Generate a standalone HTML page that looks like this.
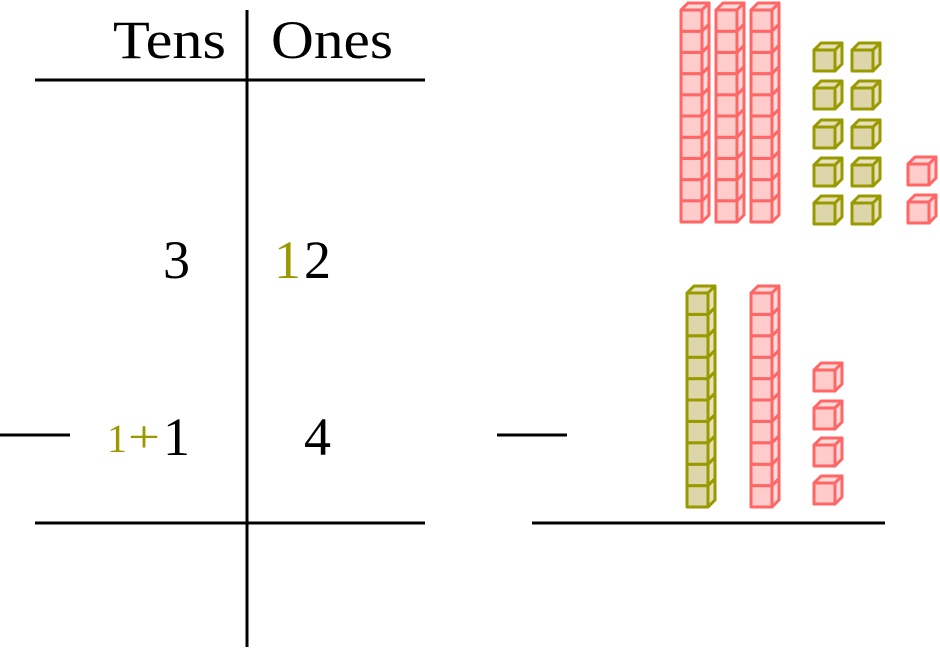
<!DOCTYPE html>
<html><head><meta charset="utf-8"><style>
html,body{margin:0;padding:0;background:#fff;}
svg{display:block;}
text{font-family:"Liberation Serif",serif;}
</style></head><body>
<svg id="s" width="940" height="649" viewBox="0 0 940 649" xmlns="http://www.w3.org/2000/svg">
<g stroke="#000" stroke-width="3">
<line x1="35" y1="80" x2="425" y2="80"/>
<line x1="247" y1="10" x2="247" y2="647"/>
<line x1="35" y1="523" x2="425" y2="523"/>
<line x1="0" y1="435" x2="70" y2="435"/>
<line x1="497" y1="435" x2="567" y2="435"/>
<line x1="532" y1="523" x2="885" y2="523"/>
</g>
<g font-size="54" fill="#000">
<text x="113" y="58" textLength="113" lengthAdjust="spacingAndGlyphs">Tens</text>
<text x="271" y="58" textLength="122" lengthAdjust="spacingAndGlyphs">Ones</text>
<text x="190" y="278" text-anchor="end">3</text>
<text x="274" y="278" fill="#999900">1</text>
<text x="304" y="278">2</text>
<text x="190" y="455" text-anchor="end">1</text>
<text x="304" y="455">4</text>
<text x="107" y="452" font-size="40" fill="#999900">1</text>
<text x="128" y="452" font-size="46" fill="#999900" textLength="32" lengthAdjust="spacingAndGlyphs">+</text>
</g>
<g id="cubes" stroke-width="3" stroke-linejoin="round"></g>
</svg>
<script>
var g=document.getElementById('cubes'),s=21,d=7,out='';
var P={st:'#ff6666',f:'#ffcccc',t:'#ffdada'},G={st:'#999900',f:'#ddd6aa',t:'#e6e0bb'};
function cube(x,y,c,top){return cubeH(x,y,s,c,top);}
function rod(x,y0,y1,c){var h=(y1-y0)/10,r='';for(var i=9;i>=0;i--){var yy=y0+i*h;r+=cubeH(x,yy,h,c,i==0);}return r;}
function cubeH(x,y,h,c,top){
 var r='';
 if(top) r+='<path d="M'+x+' '+y+' l'+d+' '+(-d)+' h'+s+' l'+(-d)+' '+d+'z" fill="'+c.t+'" stroke="'+c.st+'"/>';
 r+='<path d="M'+(x+s)+' '+y+' l'+d+' '+(-d)+' v'+h+' l'+(-d)+' '+d+'z" fill="'+c.t+'" stroke="'+c.st+'"/>';
 r+='<rect x="'+x+'" y="'+y+'" width="'+s+'" height="'+h+'" fill="'+c.f+'" stroke="'+c.st+'"/>';
 return r;
}
out+=rod(681,10,222,P)+rod(716,10,222,P)+rod(751,10,222,P);
[50,88,127,165,203].forEach(function(y){out+=cube(814,y,G,1)+cube(852,y,G,1);});
out+=cube(908,164,P,1)+cube(908,202,P,1);
out+=rod(687,293,507,G)+rod(751,293,507,P);
[370,408,445,483].forEach(function(y){out+=cube(814,y,P,1);});
g.innerHTML=out;
</script>
</body></html>
